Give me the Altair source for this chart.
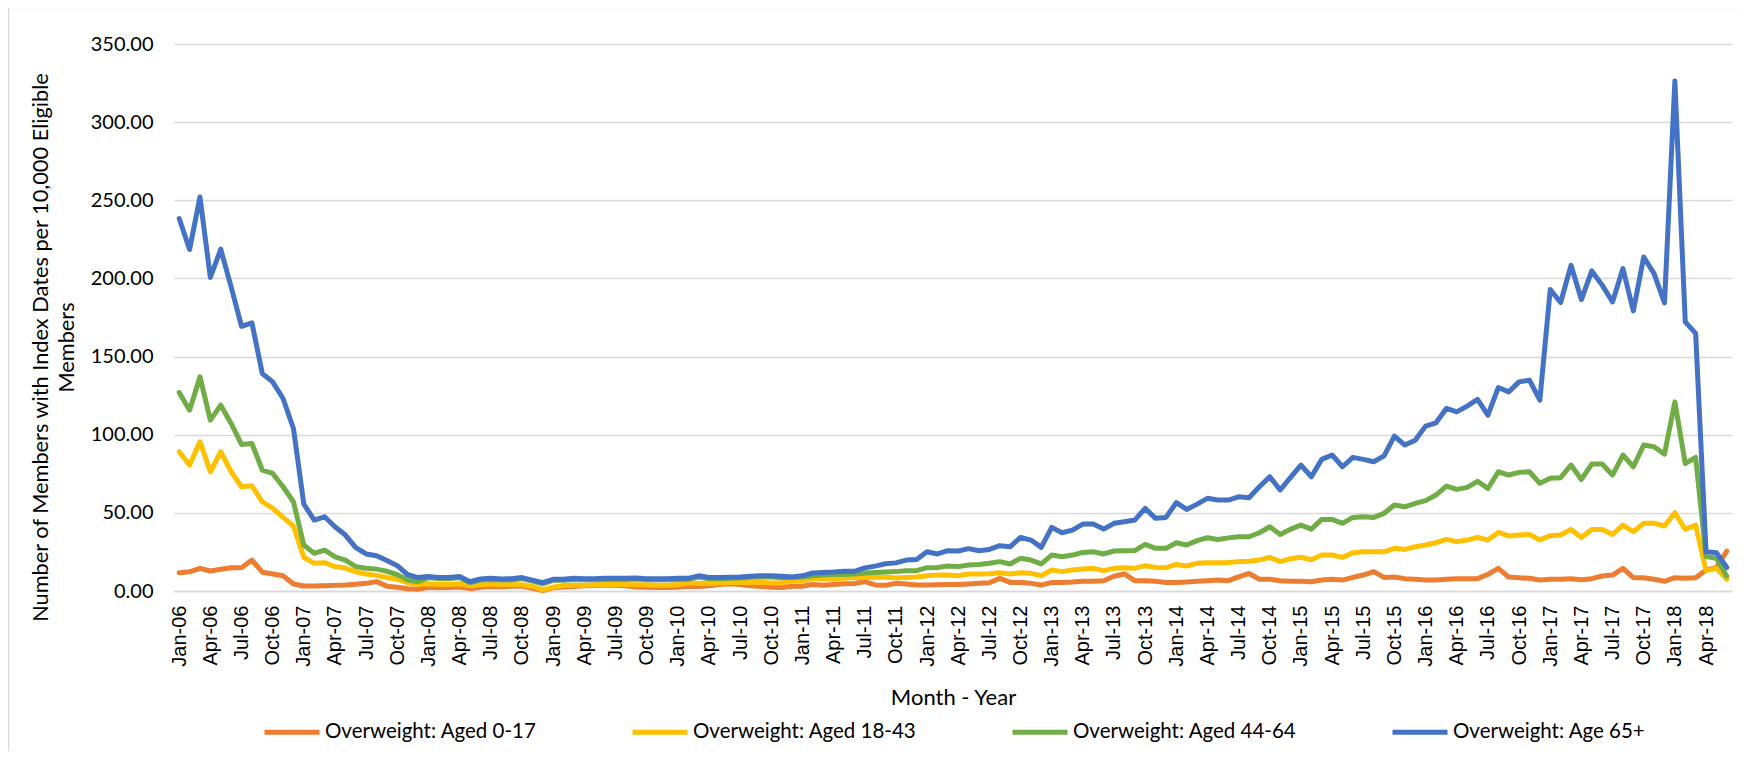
import altair as alt
import pandas as pd

MONTHS = ["Jan", "Feb", "Mar", "Apr", "May", "Jun", "Jul", "Aug", "Sep", "Oct", "Nov", "Dec"]
month_labels = [f"{m}-{y:02d}" for y in range(6, 19) for m in MONTHS][:150]
tick_labels = month_labels[::3]

series_names = [
    "Overweight: Aged 0-17",
    "Overweight: Aged 18-43",
    "Overweight: Aged 44-64",
    "Overweight: Age 65+",
]
series_colors = ["#ED7D31", "#FFC000", "#70AD47", "#4472C4"]

aged_0_17 = [
    11.7, 12.3, 14.5, 12.8, 13.9, 14.9, 14.9, 19.8, 12.0, 10.9,
    9.8, 4.5, 3.2, 3.2, 3.4, 3.6, 3.8, 4.3, 4.9, 6.0,
    3.1, 2.4, 1.5, 1.1, 2.4, 2.0, 2.2, 2.6, 1.5, 2.4,
    2.9, 2.6, 3.1, 3.1, 1.8, 0.2, 2.0, 2.6, 2.9, 3.3,
    3.5, 3.7, 3.7, 3.3, 2.6, 2.4, 2.2, 2.2, 2.4, 3.1,
    2.9, 3.3, 4.2, 4.6, 4.2, 3.3, 2.9, 2.4, 2.2, 3.1,
    3.1, 4.2, 3.7, 4.2, 4.6, 4.8, 6.0, 3.9, 3.7, 4.9,
    4.5, 3.8, 3.8, 4.0, 4.2, 4.2, 4.5, 4.9, 5.3, 8.1,
    5.5, 5.5, 4.9, 3.8, 5.5, 5.5, 5.7, 6.2, 6.2, 6.6,
    9.4, 10.9, 6.6, 6.6, 6.2, 5.5, 5.5, 5.7, 6.2, 6.6,
    7.0, 6.6, 9.0, 11.2, 7.5, 7.5, 6.6, 6.2, 6.2, 5.9,
    7.0, 7.5, 7.0, 8.7, 10.2, 12.4, 8.7, 9.0, 7.9, 7.5,
    7.0, 7.0, 7.5, 7.9, 7.9, 7.9, 10.6, 14.5, 8.9, 8.5,
    8.1, 7.0, 7.5, 7.5, 7.9, 7.2, 7.9, 9.6, 10.2, 14.5,
    8.5, 8.5, 7.5, 6.2, 8.5, 8.1, 8.5, 13.4, 15.1, 25.5,
]

aged_18_43 = [
    89.1, 80.6, 95.5, 76.3, 89.1, 76.3, 66.7, 67.3, 57.1, 52.9,
    47.1, 41.6, 21.5, 17.7, 18.1, 15.6, 14.7, 12.3, 10.9, 10.0,
    8.6, 7.5, 5.3, 4.2, 4.6, 4.2, 4.2, 4.6, 3.3, 4.0,
    4.4, 4.0, 4.2, 4.0, 2.9, 0.7, 2.4, 3.5, 3.7, 3.7,
    4.0, 4.2, 4.2, 4.2, 4.0, 4.0, 3.7, 3.7, 4.2, 5.3,
    4.8, 4.8, 5.1, 5.5, 5.5, 5.5, 5.5, 5.1, 5.1, 6.4,
    6.4, 8.1, 7.7, 7.7, 8.1, 8.6, 8.6, 8.8, 8.8, 8.4,
    8.7, 9.0, 9.8, 10.2, 10.2, 9.8, 10.9, 10.9, 11.1, 11.7,
    10.9, 11.7, 11.3, 9.8, 13.4, 12.4, 13.4, 14.1, 14.5, 13.0,
    14.5, 14.9, 14.5, 16.2, 15.1, 14.9, 17.0, 16.0, 17.7, 18.1,
    18.1, 18.3, 18.8, 19.0, 19.8, 21.5, 18.8, 20.7, 21.6, 20.0,
    23.0, 23.0, 21.5, 24.5, 25.1, 25.1, 25.1, 27.3, 26.6, 28.3,
    29.4, 30.9, 33.0, 31.6, 32.6, 34.3, 32.6, 37.5, 35.2, 35.8,
    36.2, 32.6, 35.4, 35.8, 39.4, 34.3, 39.4, 39.4, 36.2, 42.2,
    37.9, 43.3, 43.3, 41.6, 50.1, 39.4, 42.2, 13.0, 14.5, 7.5,
]

aged_44_64 = [
    127.0, 115.7, 137.0, 109.3, 118.9, 107.2, 93.8, 94.4, 77.4, 75.2,
    66.7, 57.1, 29.4, 24.1, 26.2, 21.9, 19.8, 15.6, 14.5, 14.0,
    12.6, 10.4, 7.0, 5.9, 8.6, 7.9, 7.9, 8.6, 5.2, 7.0,
    7.4, 7.0, 7.2, 7.9, 6.3, 4.6, 6.8, 6.8, 7.4, 7.2,
    7.2, 7.4, 7.4, 7.4, 7.6, 7.2, 7.2, 7.2, 7.4, 7.4,
    8.9, 7.9, 7.9, 8.1, 8.3, 8.8, 9.0, 9.0, 8.5, 8.8,
    9.0, 9.8, 10.2, 10.5, 10.5, 10.8, 11.5, 11.9, 12.1, 12.4,
    13.0, 13.0, 14.9, 15.1, 16.0, 15.6, 16.6, 17.0, 17.7, 18.8,
    17.3, 20.9, 19.8, 17.3, 23.0, 21.9, 23.0, 24.7, 25.1, 23.7,
    25.6, 25.8, 25.8, 29.8, 27.3, 27.3, 30.9, 29.4, 32.2, 34.1,
    33.0, 34.0, 34.7, 34.7, 37.3, 41.1, 36.2, 39.6, 42.2, 39.6,
    45.8, 45.8, 43.3, 47.1, 47.5, 47.1, 49.7, 55.0, 53.9, 56.1,
    57.8, 61.4, 67.1, 65.0, 66.3, 70.2, 65.6, 76.3, 74.2, 75.9,
    76.3, 68.9, 72.1, 72.5, 80.6, 71.4, 81.2, 81.2, 74.2, 87.0,
    79.5, 93.4, 92.3, 87.6, 121.0, 81.6, 85.5, 22.0, 20.9, 9.5,
]

age_65_plus = [
    238.3, 218.5, 252.1, 200.6, 218.7, 194.6, 169.4, 171.6, 139.2, 133.8,
    123.2, 104.0, 55.6, 45.4, 47.5, 41.1, 35.8, 27.7, 23.7, 22.6,
    19.5, 16.2, 10.4, 8.6, 9.3, 8.6, 8.6, 9.3, 5.9, 7.7,
    8.1, 7.7, 7.9, 8.6, 7.0, 5.3, 7.5, 7.5, 8.1, 7.9,
    7.9, 8.1, 8.1, 8.1, 8.3, 7.9, 7.9, 7.9, 8.1, 8.1,
    9.7, 8.6, 8.6, 8.8, 9.0, 9.5, 9.7, 9.7, 9.5, 9.0,
    9.7, 11.5, 11.9, 12.1, 12.6, 12.6, 14.8, 15.9, 17.4, 18.0,
    19.8, 20.2, 25.1, 23.7, 25.8, 25.6, 27.1, 25.8, 26.6, 29.0,
    28.3, 34.3, 32.6, 27.9, 40.7, 37.3, 39.0, 42.8, 42.8, 39.6,
    43.3, 44.3, 45.4, 52.9, 46.5, 47.1, 56.5, 52.2, 55.6, 59.3,
    58.2, 58.2, 60.3, 59.7, 66.7, 73.1, 64.6, 72.7, 80.6, 73.1,
    84.2, 87.0, 79.5, 85.5, 84.2, 82.7, 86.5, 99.1, 93.4, 96.5,
    105.5, 107.6, 116.8, 114.6, 118.3, 122.6, 112.5, 130.2, 127.4, 133.8,
    134.9, 122.1, 192.9, 184.6, 208.4, 186.5, 204.8, 195.7, 185.0, 206.3,
    179.2, 213.7, 203.1, 184.3, 326.3, 172.2, 164.8, 25.1, 24.5, 15.0,
]

series_values = [aged_0_17, aged_18_43, aged_44_64, age_65_plus]

rows = []
for name, vals in zip(series_names, series_values):
    for i, (m, v) in enumerate(zip(month_labels, vals)):
        rows.append({"Month": m, "idx": i, "Series": name, "Value": v})
df = pd.DataFrame(rows)

W, H = 1558, 547
LABEL_FONT = "Liberation Sans"
TEXT_FONT = "Lato"
GRID = "#D9D9D9"

color = alt.Color(
    "Series:N",
    scale=alt.Scale(domain=series_names, range=series_colors),
    legend=alt.Legend(
        title=None,
        orient="none",
        legendX=88,
        legendY=658,
        direction="horizontal",
        columns=4,
        gridAlign="each",
        columnPadding=85,
        symbolType="stroke",
        symbolSize=3025,
        symbolStrokeWidth=5,
        labelOffset=3,
        labelFont=TEXT_FONT,
        labelFontSize=20.5,
        labelColor="#000000",
        labelLimit=400,
        padding=0,
    ),
)

x = alt.X(
    "Month:O",
    sort=month_labels,
    scale=alt.Scale(type="point", padding=0.5),
    axis=alt.Axis(
        values=tick_labels,
        labelAngle=270,
        labelFont=LABEL_FONT,
        labelFontSize=20,
        labelColor="#000000",
        labelPadding=14,
        ticks=False,
        domainColor=GRID,
        domainWidth=1.5,
        title="Month - Year",
        titleFont=TEXT_FONT,
        titleFontSize=22,
        titleFontWeight="normal",
        titleColor="#000000",
        titleBaseline="middle",
        titleY=106,
        grid=False,
    ),
)

y = alt.Y(
    "Value:Q",
    scale=alt.Scale(domain=[0, 350], nice=False),
    axis=alt.Axis(
        values=[0, 50, 100, 150, 200, 250, 300, 350],
        format=".2f",
        labelFont=TEXT_FONT,
        labelFontSize=20,
        labelColor="#000000",
        labelPadding=21,
        ticks=False,
        domain=False,
        grid=True,
        gridColor=GRID,
        gridWidth=1.5,
        title=["Number of Members with Index Dates per 10,000 Eligible", "Members"],
        titleFont=TEXT_FONT,
        titleFontSize=21.75,
        titleFontWeight="normal",
        titleColor="#000000",
        titleAngle=270,
        titleBaseline="middle",
        titleLineHeight=26,
        titleX=-134,
        titleY=303,
    ),
)

layers = []
for name in series_names:
    layers.append(
        alt.Chart(df[df["Series"] == name])
        .mark_line(strokeWidth=5, strokeJoin="round", strokeCap="round")
        .encode(x=x, y=y, color=color, order=alt.Order("idx:Q"))
    )

frame = (
    alt.Chart(alt.Data(values=[{"a": 1}]))
    .mark_rect(fillOpacity=0, stroke=GRID, strokeWidth=1.5)
    .encode(
        x=alt.value(-165.5),
        x2=alt.value(1567.5),
        y=alt.value(-36.5),
        y2=alt.value(713.5),
    )
)

chart = (
    alt.layer(frame, *layers)
    .properties(
        width=W,
        height=H,
        autosize=alt.AutoSizeParams(type="none"),
        padding={"left": 166, "top": 36, "right": 8, "bottom": 160},
        background="#FFFFFF",
    )
    .configure_view(stroke=None)
)

chart.save("out.html", embed_options={"renderer": "svg", "actions": False})
